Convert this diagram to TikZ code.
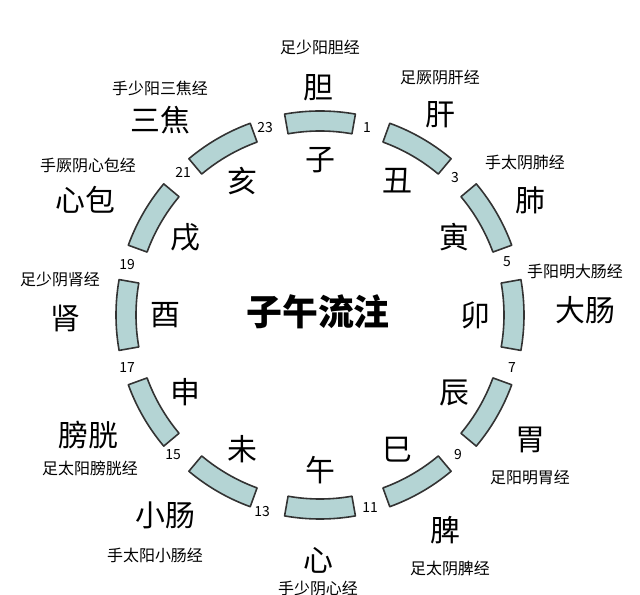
\documentclass[tikz,border=0pt]{standalone}
\usepackage{fontspec}
\newfontfamily\cjk{Noto Sans CJK SC}
\definecolor{segfill}{RGB}{180,212,212}
\tikzset{
  big/.style={font=\cjk\fontsize{30}{30}\selectfont},
  small/.style={font=\cjk\fontsize{16}{16}\selectfont},
  num/.style={font=\cjk\fontsize{14}{14}\selectfont},
  seg/.style={draw=black!80,line width=1.6pt,fill=segfill,line join=round},
}
\begin{document}
\begin{tikzpicture}[x=1bp,y=1bp]
\useasboundingbox (0,0) rectangle (640,595);
\coordinate (c) at (320,280);
%% arc segments
\foreach \a in {90,60,...,-240}
  \draw[seg] ([shift={(\a-10:184)}]c) arc[start angle=\a-10,end angle=\a+10,radius=184]
    -- ([shift={(\a+10:204)}]c) arc[start angle=\a+10,end angle=\a-10,radius=204] -- cycle;
%% branches
\foreach \ch [count=\i from 0] in {子,丑,寅,卯,辰,巳,午,未,申,酉,戌,亥}
  \node[big] (b\i) at ([shift={(90-30*\i:155)}]c) {\ch};
\node[font=\cjk\bfseries\fontsize{36}{36}\selectfont] (title) at (318,283) {子午流注};
%% hours
\node[num] (h23) at (265,467) {23};
\node[num] (h1) at (367,467) {1};
\node[num] (h3) at (455,417) {3};
\node[num] (h5) at (507,333) {5};
\node[num] (h7) at (512,227) {7};
\node[num] (h9) at (458,140) {9};
\node[num] (h11) at (370,87) {11};
\node[num] (h13) at (262,83) {13};
\node[num] (h15) at (173,140) {15};
\node[num] (h17) at (127,227) {17};
\node[num] (h19) at (127,330) {19};
\node[num] (h21) at (183,423) {21};
%% organs
\node[big] (dan) at (318,507) {胆};
\node[big] (gan) at (440,480) {肝};
\node[big] (fei) at (530,395) {肺};
\node[big] (dachang) at (585,285) {大肠};
\node[big] (wei) at (530,155) {胃};
\node[big] (pi) at (445,65) {脾};
\node[big] (xin) at (318,35) {心};
\node[big] (xiaochang) at (165,80) {小肠};
\node[big] (pangguang) at (88,160) {膀胱};
\node[big] (shen) at (65,277) {肾};
\node[big] (xinbao) at (85,395) {心包};
\node[big] (sanjiao) at (160,475) {三焦};
%% meridians
\node[small] (mdan) at (320,548) {足少阳胆经};
\node[small] (mgan) at (440,517) {足厥阴肝经};
\node[small] (mfei) at (525,432) {手太阴肺经};
\node[small] (mdachang) at (575,323) {手阳明大肠经};
\node[small] (mwei) at (530,117) {足阳明胃经};
\node[small] (mpi) at (450,27) {足太阴脾经};
\node[small] (mxin) at (318,7) {手少阴心经};
\node[small] (mxiaochang) at (155,40) {手太阳小肠经};
\node[small] (mpangguang) at (90,127) {足太阳膀胱经};
\node[small] (mshen) at (60,315) {足少阴肾经};
\node[small] (mxinbao) at (88,430) {手厥阴心包经};
\node[small] (msanjiao) at (160,507) {手少阳三焦经};
%
\end{tikzpicture}
\end{document}
